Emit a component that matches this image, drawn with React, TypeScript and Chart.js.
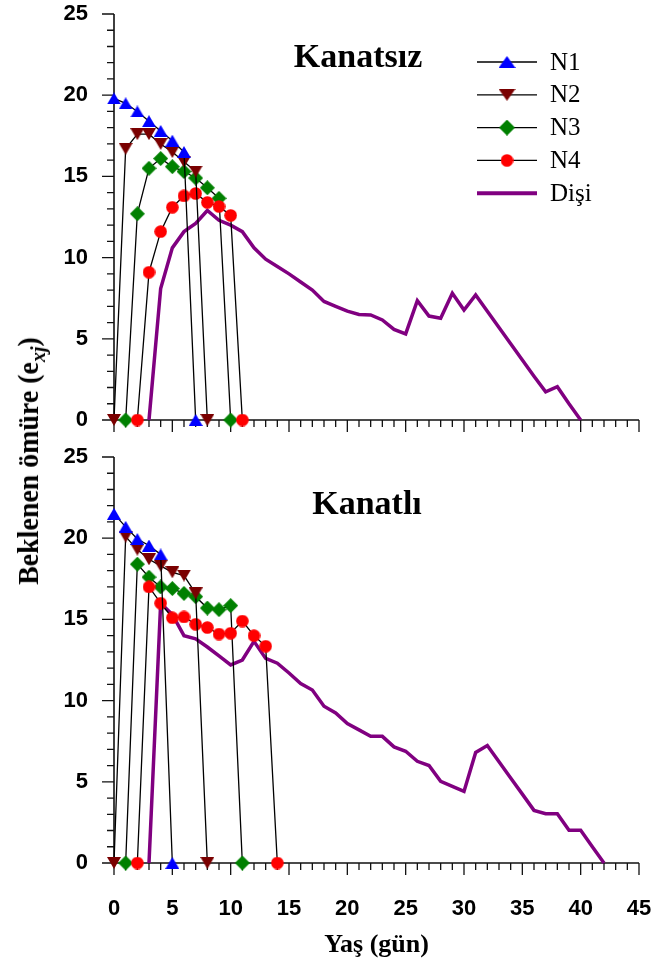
import React, { useEffect, useRef } from 'react';
import { Chart, registerables } from 'chart.js';

Chart.register(...registerables);

const SERIF = "'Liberation Serif', 'Times New Roman', serif";
const SANS = "'Liberation Sans', Arial, sans-serif";

// ---------- Panel 1: Kanatsız ----------
const topN1X = [0, 1, 2, 3, 4, 5, 6, 7];
const topN1Y = [19.8, 19.5, 19.0, 18.4, 17.8, 17.2, 16.5, 0];
const topN2X = [0, 1, 2, 3, 4, 5, 6, 7, 8];
const topN2Y = [0, 16.7, 17.6, 17.6, 17.0, 16.5, 15.9, 15.3, 0];
const topN3X = [1, 2, 3, 4, 5, 6, 7, 8, 9, 10];
const topN3Y = [0, 12.7, 15.5, 16.1, 15.6, 15.3, 14.9, 14.3, 13.65, 0];
const topN4X = [2, 3, 4, 5, 6, 7, 8, 9, 10, 11];
const topN4Y = [0, 9.1, 11.6, 13.1, 13.8, 13.95, 13.4, 13.15, 12.6, 0];
const topDisiX = [3, 4, 5, 6, 7, 8, 9, 10, 11, 12, 13, 14, 15, 16, 17, 18, 19, 20, 21, 22, 23, 24, 25, 26, 27, 28, 29, 30, 31, 32, 33, 34, 35, 36, 37, 38, 39, 40];
const topDisiY = [0, 8.1, 10.6, 11.6, 12.1, 12.9, 12.3, 12.0, 11.6, 10.6, 9.9, 9.45, 9.0, 8.5, 8.0, 7.3, 7.0, 6.7, 6.5, 6.47, 6.16, 5.58, 5.3, 7.35, 6.4, 6.26, 7.8, 6.77, 7.7, 6.7, 5.7, 4.7, 3.7, 2.7, 1.74, 2.05, 1.0, 0];

// ---------- Panel 2: Kanatlı ----------
const botN1X = [0, 1, 2, 3, 4, 5];
const botN1Y = [21.5, 20.7, 19.95, 19.55, 19.0, 0];
const botN2X = [0, 1, 2, 3, 4, 5, 6, 7, 8];
const botN2Y = [0, 20.1, 19.3, 18.7, 18.3, 17.9, 17.7, 16.6, 0];
const botN3X = [1, 2, 3, 4, 5, 6, 7, 8, 9, 10, 11];
const botN3Y = [0, 18.4, 17.6, 17.0, 16.9, 16.6, 16.4, 15.7, 15.6, 15.85, 0];
const botN4X = [2, 3, 4, 5, 6, 7, 8, 9, 10, 11, 12, 13, 14];
const botN4Y = [0, 17.0, 16.0, 15.1, 15.15, 14.7, 14.5, 14.1, 14.15, 14.9, 14.0, 13.35, 0];
const botDisiX = [3, 4, 5, 6, 7, 8, 9, 10, 11, 12, 13, 14, 15, 16, 17, 18, 19, 20, 21, 22, 23, 24, 25, 26, 27, 28, 29, 30, 31, 32, 33, 34, 35, 36, 37, 38, 39, 40, 41, 42];
const botDisiY = [0, 16.0, 15.3, 14.0, 13.8, 13.3, 12.75, 12.2, 12.5, 13.65, 12.6, 12.3, 11.7, 11.05, 10.65, 9.65, 9.24, 8.58, 8.2, 7.8, 7.8, 7.15, 6.88, 6.26, 6.0, 5.03, 4.72, 4.41, 6.81, 7.23, 6.23, 5.23, 4.24, 3.24, 3.04, 3.04, 2.01, 2.01, 1.0, 0];

const seriesLabels = ['N1', 'N2', 'N3', 'N4', 'Dişi'];
const xTickLabels = ['0', '5', '10', '15', '20', '25', '30', '35', '40', '45'];
const yTickLabels = ['0', '5', '10', '15', '20', '25'];
const panelTitles = ['Kanatsız', 'Kanatlı'];
const xAxisTitle = 'Yaş (gün)';

const COLORS = { N1: '#0000ff', N2: '#7a0000', N3: '#008000', N4: '#ff0000', Disi: '#800080' };

function xy(xs: number[], ys: number[]) {
  return xs.map((x, i) => ({ x, y: ys[i] }));
}

function makeMarker(shape: string, color: string, w: number, h: number) {
  const c = document.createElement('canvas');
  c.width = w;
  c.height = h;
  const g = c.getContext('2d')!;
  g.fillStyle = color;
  g.beginPath();
  if (shape === 'up') {
    g.moveTo(w / 2, 0); g.lineTo(w, h); g.lineTo(0, h);
  } else if (shape === 'down') {
    g.moveTo(0, 0); g.lineTo(w, 0); g.lineTo(w / 2, h);
  } else if (shape === 'diamond') {
    g.moveTo(w / 2, 0); g.lineTo(w, h / 2); g.lineTo(w / 2, h); g.lineTo(0, h / 2);
  } else {
    g.arc(w / 2, h / 2, w / 2 - 0.2, 0, Math.PI * 2);
  }
  g.closePath();
  g.fill();
  return c;
}

const axesPlugin = {
  id: 'axesTicks',
  beforeDatasetsDraw(chart: any) {
    const { ctx, chartArea: a, scales } = chart;
    const xs = scales.x, ys = scales.y;
    ctx.save();
    ctx.strokeStyle = '#111';
    ctx.lineWidth = 1.6;
    ctx.beginPath();
    ctx.moveTo(a.left, a.top);
    ctx.lineTo(a.left, a.bottom);
    ctx.moveTo(a.left, a.bottom);
    ctx.lineTo(a.right, a.bottom);
    ctx.stroke();
    ctx.lineWidth = 1.3;
    ctx.beginPath();
    for (let v = ys.min; v <= ys.max; v++) {
      const y = ys.getPixelForValue(v);
      const len = v % 5 === 0 ? 12 : 7;
      ctx.moveTo(a.left - len, y);
      ctx.lineTo(a.left, y);
    }
    for (let v = xs.min; v <= xs.max; v++) {
      const x = xs.getPixelForValue(v);
      const len = v % 5 === 0 ? 12 : 7;
      ctx.moveTo(x, a.bottom);
      ctx.lineTo(x, a.bottom + len);
    }
    ctx.stroke();
    ctx.restore();
  },
};

function buildConfig(opts: {
  data: { [k: string]: { x: number; y: number }[] };
  markers: any;
  legendMarkers: any;
  height: number;
  top: number;
  bottom: number;
  showXLabels: boolean;
  title: string;
  titleX: number;
  titleY: number;
  showLegend: boolean;
}) {
  const { data, markers, legendMarkers } = opts;
  const ds = (label: string, pts: any, img: any, order: number) => ({
    label,
    data: pts,
    borderColor: '#000',
    borderWidth: 1.3,
    pointStyle: img,
    pointRadius: 7,
    pointHoverRadius: 7,
    tension: 0,
    clip: false,
    order,
  });
  const textPlugin = {
    id: 'panelText',
    afterDraw(chart: any) {
      const { ctx, chartArea: a } = chart;
      ctx.save();
      ctx.fillStyle = '#000';
      ctx.font = `bold 34px ${SERIF}`;
      ctx.textAlign = 'center';
      ctx.textBaseline = 'alphabetic';
      ctx.fillText(opts.title, opts.titleX, opts.titleY);
      if (opts.showXLabels) {
        ctx.font = `bold 26px ${SERIF}`;
        ctx.textBaseline = 'middle';
        ctx.fillText(xAxisTitle, (a.left + a.right) / 2, 505);
      }
      if (opts.showLegend) {
        const lx0 = 477, lx1 = 537, mx = 507, tx = 550;
        ctx.textAlign = 'left';
        ctx.textBaseline = 'middle';
        ctx.font = `25px ${SERIF}`;
        for (let i = 0; i < seriesLabels.length; i++) {
          const y = 62 + i * 32.8;
          ctx.beginPath();
          if (i < 4) {
            ctx.strokeStyle = '#000';
            ctx.lineWidth = 1.3;
          } else {
            ctx.strokeStyle = COLORS.Disi;
            ctx.lineWidth = 4;
          }
          ctx.moveTo(lx0, y);
          ctx.lineTo(lx1, y);
          ctx.stroke();
          if (i < 4) {
            const img = legendMarkers[i];
            ctx.drawImage(img, mx - img.width / 2, y - img.height / 2);
          }
          ctx.fillStyle = '#000';
          ctx.fillText(seriesLabels[i], tx, y + 1);
        }
      }
      ctx.restore();
    },
  };
  const hiddenGrid = (len: number) => ({
    display: true,
    drawOnChartArea: false,
    drawTicks: true,
    tickLength: len,
    color: 'rgba(0,0,0,0)',
  });
  return {
    type: 'line' as const,
    data: {
      datasets: [
        ds('N1', data.N1, markers[0], 1),
        ds('N2', data.N2, markers[1], 2),
        ds('N4', data.N4, markers[3], 3),
        ds('N3', data.N3, markers[2], 4),
        {
          label: 'Dişi',
          data: data.Disi,
          borderColor: COLORS.Disi,
          borderWidth: 3.5,
          pointRadius: 0,
          pointHoverRadius: 0,
          tension: 0,
          clip: false,
          order: 5,
        },
      ],
    },
    options: {
      animation: false,
      responsive: false,
      maintainAspectRatio: false,
      events: [],
      layout: { autoPadding: false, padding: { left: 0, right: 13, top: opts.top, bottom: 0 } },
      plugins: { legend: { display: false }, tooltip: { enabled: false }, title: { display: false } },
      scales: {
        x: {
          type: 'linear',
          min: 0,
          max: 45,
          grid: hiddenGrid(33),
          border: { display: false },
          ticks: {
            display: opts.showXLabels,
            stepSize: 5,
            autoSkip: false,
            maxRotation: 0,
            padding: 0,
            color: '#000',
            font: { family: SANS, size: 22, weight: 'bold' },
            callback: (v: number) => xTickLabels[Math.round(v / 5)] ?? '',
          },
          afterFit: (s: any) => {
            s.height = opts.height - opts.bottom;
          },
        },
        y: {
          type: 'linear',
          min: 0,
          max: 25,
          grid: hiddenGrid(26),
          border: { display: false },
          ticks: {
            stepSize: 5,
            padding: 0,
            color: '#000',
            font: { family: SANS, size: 22, weight: 'bold' },
            callback: (v: number) => yTickLabels[Math.round(v / 5)] ?? '',
          },
          afterFit: (s: any) => {
            s.width = 114;
          },
        },
      },
    },
    plugins: [axesPlugin, textPlugin],
  };
}

export default function App() {
  const topRef = useRef<HTMLCanvasElement>(null);
  const botRef = useRef<HTMLCanvasElement>(null);

  useEffect(() => {
    const markers = [
      makeMarker('up', COLORS.N1, 14, 12),
      makeMarker('down', COLORS.N2, 14, 12),
      makeMarker('diamond', COLORS.N3, 15, 15),
      makeMarker('circle', COLORS.N4, 13, 13),
    ];
    const legendMarkers = [
      makeMarker('up', COLORS.N1, 17, 12),
      makeMarker('down', COLORS.N2, 17, 12),
      makeMarker('diamond', COLORS.N3, 16, 16),
      makeMarker('circle', COLORS.N4, 13, 13),
    ];
    const c1 = new Chart(
      topRef.current as HTMLCanvasElement,
      buildConfig({
        data: {
          N1: xy(topN1X, topN1Y),
          N2: xy(topN2X, topN2Y),
          N3: xy(topN3X, topN3Y),
          N4: xy(topN4X, topN4Y),
          Disi: xy(topDisiX, topDisiY),
        },
        markers,
        legendMarkers,
        height: 440,
        top: 14,
        bottom: 420,
        showXLabels: false,
        title: panelTitles[0],
        titleX: 358,
        titleY: 67,
        showLegend: true,
      }) as any
    );
    const c2 = new Chart(
      botRef.current as HTMLCanvasElement,
      buildConfig({
        data: {
          N1: xy(botN1X, botN1Y),
          N2: xy(botN2X, botN2Y),
          N3: xy(botN3X, botN3Y),
          N4: xy(botN4X, botN4Y),
          Disi: xy(botDisiX, botDisiY),
        },
        markers,
        legendMarkers,
        height: 528,
        top: 17,
        bottom: 423,
        showXLabels: true,
        title: panelTitles[1],
        titleX: 367,
        titleY: 74,
        showLegend: false,
      }) as any
    );
    return () => {
      c1.destroy();
      c2.destroy();
    };
  }, []);

  return (
    <div style={{ position: 'absolute', left: 0, top: 0, width: 652, height: 968, background: '#fff', overflow: 'hidden' }}>
      <canvas ref={topRef} width={652} height={440} style={{ position: 'absolute', left: 0, top: 0, width: 652, height: 440 }} />
      <canvas ref={botRef} width={652} height={528} style={{ position: 'absolute', left: 0, top: 440, width: 652, height: 528 }} />
      <div
        style={{
          position: 'absolute',
          left: 28 - 160,
          top: 461 - 20,
          width: 320,
          height: 40,
          lineHeight: '40px',
          textAlign: 'center',
          transform: 'rotate(-90deg) scaleX(0.93)',
          fontFamily: SERIF,
          fontWeight: 'bold',
          fontSize: 30,
          whiteSpace: 'nowrap',
          color: '#000',
        }}
      >
        Beklenen ömüre (e<sub style={{ fontStyle: 'italic', fontSize: '0.72em', lineHeight: 0 }}>xj</sub>)
      </div>
    </div>
  );
}
